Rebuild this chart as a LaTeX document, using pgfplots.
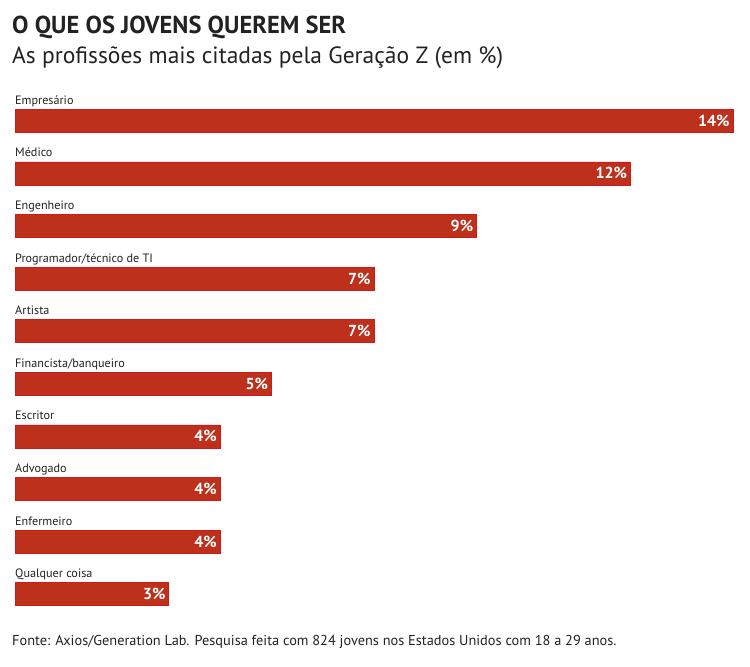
\documentclass[border=0pt]{standalone}
\usepackage{pgfplots}
\pgfplotsset{compat=1.18}
\usepackage{fontspec}
\setmainfont{PT Sans}
\definecolor{barfill}{RGB}{189,48,28}
\definecolor{baredge}{RGB}{210,24,24}
\definecolor{txt}{RGB}{34,34,34}
\tikzset{catlab/.style={anchor=base west, inner sep=0, text=txt, font=\fontsize{12.2}{14}\selectfont, yshift=16.5bp}}
\begin{document}
\begin{tikzpicture}
\useasboundingbox (0bp,0bp) rectangle (750bp,-667bp);
\node[anchor=base west, inner sep=0, text=txt, font=\fontsize{24.6}{27}\selectfont\bfseries] at (12bp,-33bp) {O QUE OS JOVENS QUEREM SER};
\node[anchor=base west, inner sep=0, text=txt, font=\fontsize{23.6}{26}\selectfont] at (12bp,-63bp) {As profissões mais citadas pela Geração Z (em \%)};
\node[anchor=base west, inner sep=0, text=txt, font=\fontsize{14.4}{17}\selectfont] at (12bp,-645bp) {Fonte: Axios/Generation Lab. Pesquisa feita com 824 jovens nos Estados Unidos com 18 a 29 anos.};
\begin{axis}[
  at={(15bp,-620.5bp)}, anchor=south west,
  scale only axis, width=718bp, height=526bp,
  xmin=0, xmax=14, ymin=-0.5, ymax=9.5, y dir=reverse,
  axis lines=none, ticks=none, clip=false,
  xbar, bar width=23bp,
  nodes near coords={\pgfmathprintnumber[assume math mode=true]{\pgfplotspointmeta}\%},
  point meta=x,
  every node near coord/.append style={anchor=east, xshift=-2bp, text=white, font=\fontsize{16}{18}\selectfont\bfseries, inner sep=1bp},
]
\addplot[fill=barfill, draw=baredge, line width=0.8bp] coordinates {
 (14,0) (12,1) (9,2) (7,3) (7,4) (5,5) (4,6) (4,7) (4,8) (3,9)
};
\node[catlab] at (axis cs:0,0) {Empresário};
\node[catlab] at (axis cs:0,1) {Médico};
\node[catlab] at (axis cs:0,2) {Engenheiro};
\node[catlab] at (axis cs:0,3) {Programador/técnico de TI};
\node[catlab] at (axis cs:0,4) {Artista};
\node[catlab] at (axis cs:0,5) {Financista/banqueiro};
\node[catlab] at (axis cs:0,6) {Escritor};
\node[catlab] at (axis cs:0,7) {Advogado};
\node[catlab] at (axis cs:0,8) {Enfermeiro};
\node[catlab] at (axis cs:0,9) {Qualquer coisa};
\end{axis}
\end{tikzpicture}
\end{document}
